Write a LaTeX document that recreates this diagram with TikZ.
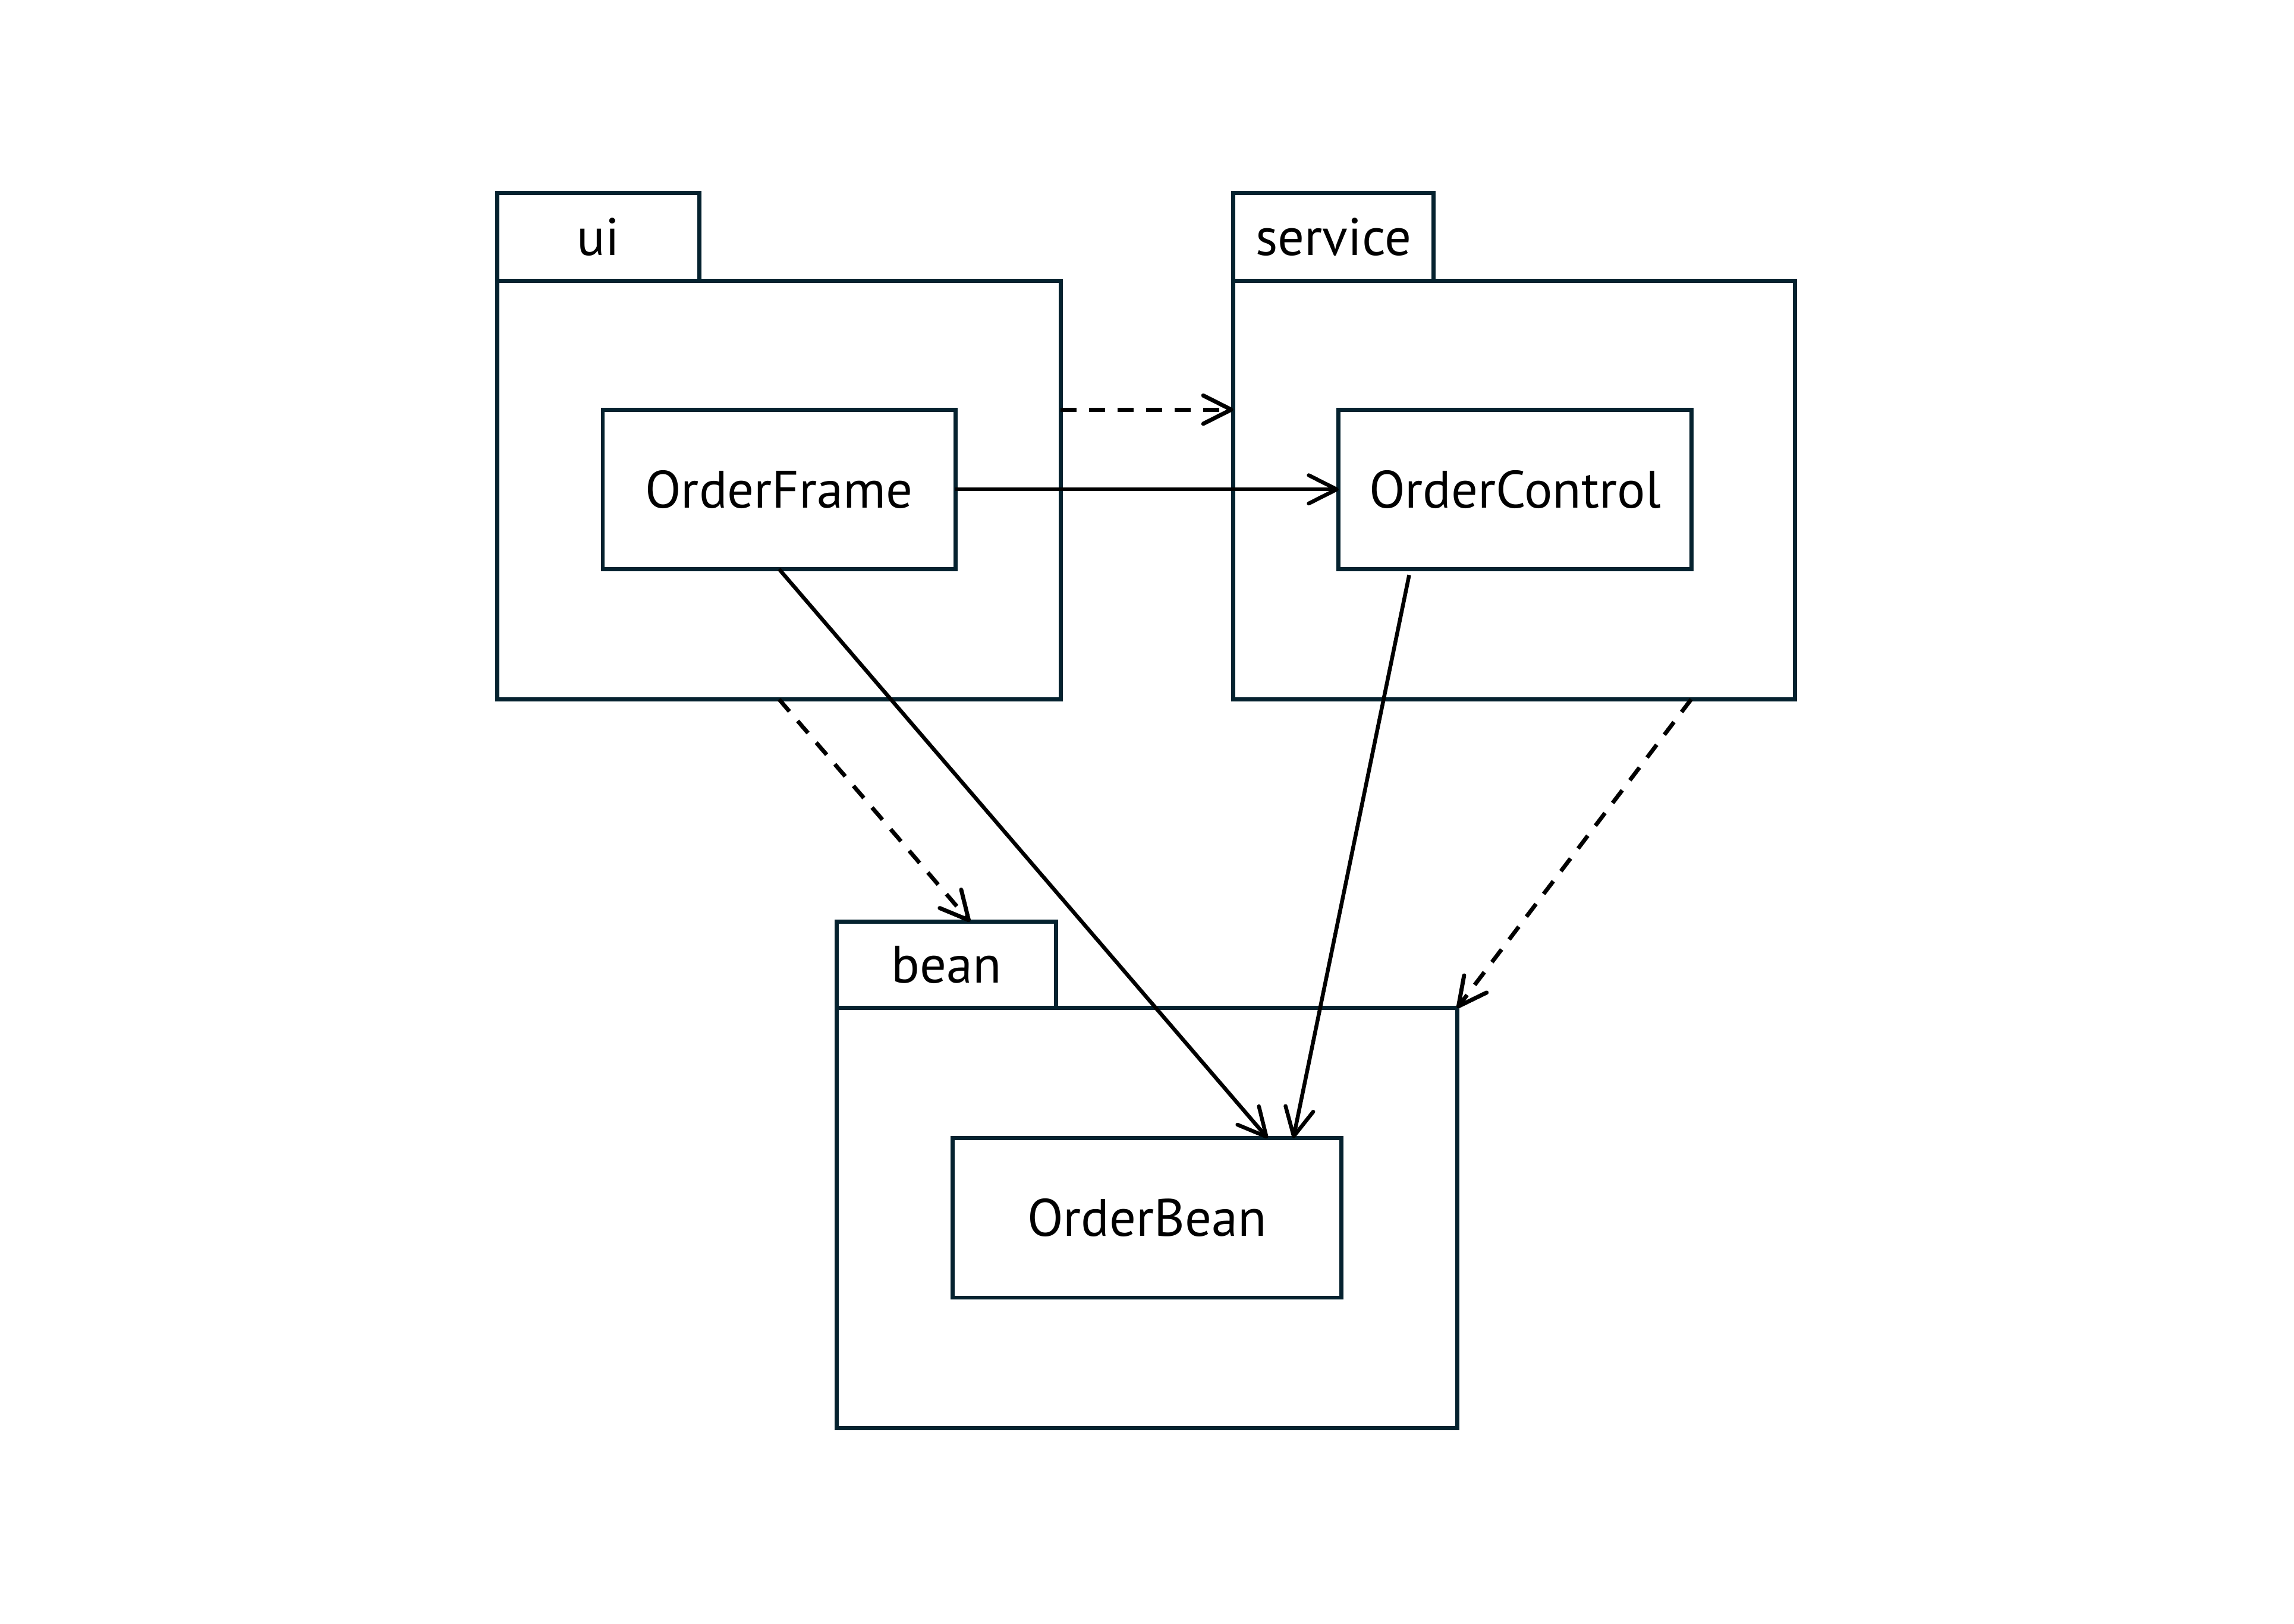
\documentclass[tikz,border=0pt]{standalone}
\usepackage{fontspec}
\setmainfont{PT Sans}
\usetikzlibrary{arrows.meta,calc,positioning}

\definecolor{boxline}{HTML}{05222F}

\tikzset{
  pkgbody/.style={draw=boxline, line width=1.6pt, inner sep=0pt, outer sep=0pt, anchor=north west,
    minimum width=#1, minimum height=57.2mm},
  pkgtab/.style={draw=boxline, line width=1.6pt, inner sep=0pt, outer sep=0pt, anchor=south west,
    minimum width=#1, minimum height=12mm, font=\fontsize{20.5}{24}\selectfont},
  classbox/.style={draw=boxline, line width=1.6pt, inner sep=0pt, outer sep=0pt, anchor=north west,
    minimum width=#1, minimum height=21.8mm, font=\fontsize{20.5}{24}\selectfont},
  dep/.style={line width=1.6pt, dash pattern=on 6.2pt off 4.9pt, ->},
  assoc/.style={line width=1.5pt, ->},
}

\begin{document}
\begin{tikzpicture}[x=0.2mm, y=-0.2mm, >={Straight Barb[length=10.9pt, width=11pt, round]}]

\useasboundingbox (0, 0) rectangle (1568, 1109.7);

\node[pkgbody=77mm] (uib) at (340, 192) {};
\node[pkgtab=27.6mm] (uit) at (uib.north west) {ui};
\node[classbox=48.2mm] (frame) at ($(uib.north west)+(72, 88)$) {OrderFrame};

\node[pkgbody=76.8mm] (srvb) at (843, 192) {};
\node[pkgtab=27.4mm] (srvt) at (srvb.north west) {service};
\node[classbox=48.2mm] (ctrl) at ($(srvb.north west)+(72, 88)$) {OrderControl};

\node[pkgbody=84.8mm, minimum height=57.4mm] (beanb) at (572, 689) {};
\node[pkgtab=30mm, minimum height=11.8mm] (beant) at (beanb.north west) {bean};
\node[classbox=53.2mm] (bean) at ($(beanb.north west)+(79, 89)$) {OrderBean};

\draw[dep] (uib.east |- frame.north) -- (srvb.west |- frame.north);
\draw[dep] (uib.south) -- ($(beant.north west)!0.607!(beant.north east)$);
\draw[dep] ($(srvb.south west)!0.815!(srvb.south east)$) -- (beanb.north east);

\draw[assoc] (frame.east) -- (ctrl.west);
\draw[assoc] (frame.south) -- ($(bean.north west)!0.81!(bean.north east)$);
\draw[assoc] ($(ctrl.south west)!0.2!(ctrl.south east)+(0, 4)$) -- ($(bean.north west)!0.876!(bean.north east)$);

\end{tikzpicture}
\end{document}
